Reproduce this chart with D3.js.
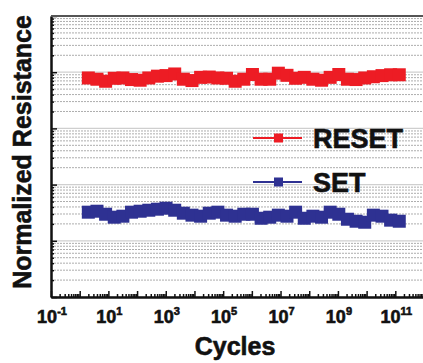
<!DOCTYPE html>
<html>
<head>
<meta charset="utf-8">
<script src="https://cdn.jsdelivr.net/npm/d3@7.9.0/dist/d3.min.js"></script>
<style>
  body { margin: 0; background: #fff; }
  svg { display: block; font-family: "Liberation Sans", Arial, sans-serif; }
  .bold { font-weight: bold; fill: #111; stroke: #111; stroke-width: 0.6px; }
</style>
</head>
<body>
<svg id="chart" width="423" height="363"></svg>
<script>
// cycles for each measurement (doubling)
const cycles = [2, 4, 8, 16, 32, 64, 128, 256, 512, 1024, 2048, 4096, 8192, 16384,
  32768, 65536, 131072, 262144, 524288, 1048576, 2097152, 4194304, 8388608,
  16777216, 33554432, 67108864, 134217728, 268435456, 536870912, 1073741824,
  2147483648, 4294967296, 8589934592, 17179869184, 34359738368, 68719476736,
  137438953472];

const resetValues = [0.79, 0.75, 0.69, 0.78, 0.79, 0.74, 0.72, 0.79, 0.85, 0.87,
  0.93, 0.75, 0.71, 0.81, 0.82, 0.79, 0.78, 0.69, 0.75, 0.91, 0.75, 0.75, 0.96,
  0.88, 0.78, 0.81, 0.75, 0.72, 0.81, 0.91, 0.75, 0.74, 0.79, 0.83, 0.87, 0.90, 0.90];

const setValues = [0.00323, 0.00336, 0.00297, 0.00263, 0.00274, 0.00323, 0.00336,
  0.0035, 0.00365, 0.0038, 0.0035, 0.0031, 0.00286, 0.00274, 0.0031, 0.00323,
  0.00286, 0.00274, 0.00297, 0.00297, 0.00252, 0.00263, 0.00286, 0.00274, 0.00323,
  0.00252, 0.00274, 0.00263, 0.00323, 0.00297, 0.00242, 0.00223, 0.00214, 0.00286,
  0.00274, 0.00233, 0.00223];

const xLabelExps = [-1, 1, 3, 5, 7, 9, 11];
const seriesNames = ['RESET', 'SET'];
const seriesColors = ['#ed1c24', '#2e3192'];

const svg = d3.select('#chart');
const plotLeft = 51, plotRight = 424, plotTop = 16, plotBottom = 297;

const x = d3.scaleLog().domain([1e-1, 1e12]).range([plotLeft, plotRight]);
const y = d3.scaleLog().domain([1e-4, 1e1]).range([plotBottom, plotTop]);

// tick values: decades and the 2..9 in between
const xMajor = d3.range(-1, 13).map(e => Math.pow(10, e));
const xMinor = [];
d3.range(-1, 12).forEach(e => d3.range(2, 10).forEach(m => xMinor.push(m * Math.pow(10, e))));
const yMajor = d3.range(-4, 2).map(e => Math.pow(10, e));
const yMinor = [];
d3.range(-4, 1).forEach(e => d3.range(2, 10).forEach(m => yMinor.push(m * Math.pow(10, e))));

// grid
svg.append('g').selectAll('line').data(yMinor).join('line')
  .attr('x1', plotLeft).attr('x2', plotRight)
  .attr('y1', d => y(d)).attr('y2', d => y(d))
  .attr('stroke', '#adadad').attr('stroke-width', 1)
  .attr('stroke-dasharray', '2,1');
svg.append('g').selectAll('line').data(yMajor).join('line')
  .attr('x1', plotLeft).attr('x2', plotRight)
  .attr('y1', d => y(d)).attr('y2', d => y(d))
  .attr('stroke', '#cfcfcf').attr('stroke-width', 1.2);

// series
const series = [resetValues, setValues];
series.forEach((vals, k) => {
  const pts = cycles.map((c, i) => [c, vals[i]]);
  svg.append('path')
    .attr('d', d3.line().x(d => x(d[0])).y(d => y(d[1]))(pts))
    .attr('fill', 'none').attr('stroke', seriesColors[k]).attr('stroke-width', 2);
  svg.append('g').selectAll('rect').data(pts).join('rect')
    .attr('x', d => x(d[0]) - 6.5).attr('y', d => y(d[1]) - 6.5)
    .attr('width', 13).attr('height', 13)
    .attr('fill', seriesColors[k]);
});

// axes (ticks pointing inward)
const axisStyle = g => {
  g.select('.domain').attr('stroke', '#111').attr('stroke-width', 2);
  g.selectAll('.tick line').attr('stroke', '#111').attr('stroke-width', 1.5);
};
svg.append('g').attr('transform', `translate(0,${plotBottom})`)
  .call(d3.axisBottom(x).tickValues(xMinor).tickSize(-3).tickSizeOuter(0).tickFormat(''))
  .call(axisStyle);
svg.append('g').attr('transform', `translate(0,${plotBottom})`)
  .call(d3.axisBottom(x).tickValues(xMajor).tickSize(-6).tickSizeOuter(0).tickFormat(''))
  .call(axisStyle);
svg.append('g').attr('transform', `translate(${plotLeft},0)`)
  .call(d3.axisLeft(y).tickValues(yMinor).tickSize(-3).tickSizeOuter(0).tickFormat(''))
  .call(axisStyle);
svg.append('g').attr('transform', `translate(${plotLeft},0)`)
  .call(d3.axisLeft(y).tickValues(yMajor).tickSize(-6).tickSizeOuter(0).tickFormat(''))
  .call(axisStyle);

// top frame line
svg.append('line').attr('x1', plotLeft).attr('x2', 423).attr('y1', plotTop).attr('y2', plotTop)
  .attr('stroke', '#555').attr('stroke-width', 2);

// x tick labels 10^n
const lab = svg.append('g').selectAll('text').data(xLabelExps).join('text')
  .attr('class', 'bold')
  .attr('x', d => x(Math.pow(10, d)) + 1).attr('y', 323)
  .attr('text-anchor', 'middle')
  .attr('font-size', 18);
lab.append('tspan').text('10');
lab.append('tspan').attr('dy', -8).attr('font-size', 11).text(d => d);

// axis titles
svg.append('text').attr('class', 'bold').attr('x', 235).attr('y', 355)
  .attr('text-anchor', 'middle').attr('font-size', 25).text('Cycles');
svg.append('text').attr('class', 'bold').attr('transform', 'translate(31,152) rotate(-90)')
  .attr('text-anchor', 'middle').attr('font-size', 25)
  .text('Normalized Resistance');

// legend
const legY = [138, 182];
seriesNames.forEach((name, k) => {
  const g = svg.append('g');
  g.append('line').attr('x1', 253).attr('x2', 302).attr('y1', legY[k]).attr('y2', legY[k])
    .attr('stroke', seriesColors[k]).attr('stroke-width', 2);
  g.append('rect').attr('x', 274).attr('y', legY[k] - 4.5).attr('width', 9).attr('height', 9)
    .attr('fill', seriesColors[k]);
  g.append('text').attr('class', 'bold').attr('x', 313).attr('y', legY[k] + 10)
    .attr('font-size', 27).text(name);
});
</script>
</body>
</html>
